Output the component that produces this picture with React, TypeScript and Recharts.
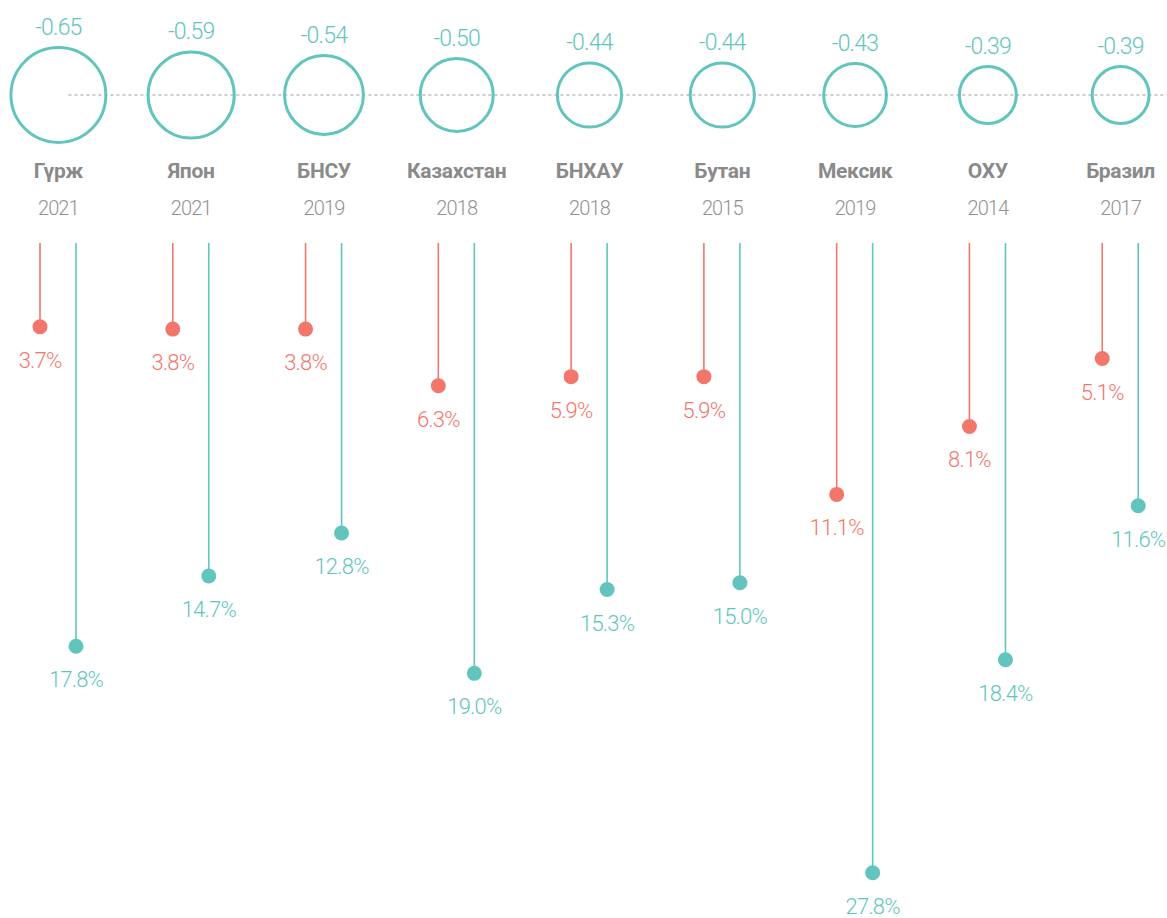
import React from "react";
import { ComposedChart, Bar, XAxis, YAxis } from "recharts";

const countries = ["Гүрж", "Япон", "БНСУ", "Казахстан", "БНХАУ", "Бутан", "Мексик", "ОХУ", "Бразил"];
const years = ["2021", "2021", "2019", "2018", "2018", "2015", "2019", "2014", "2017"];
const coefs = [-0.65, -0.59, -0.54, -0.5, -0.44, -0.44, -0.43, -0.39, -0.39];
const redShare = [3.7, 3.8, 3.8, 6.3, 5.9, 5.9, 11.1, 8.1, 5.1];
const tealShare = [17.8, 14.7, 12.8, 19.0, 15.3, 15.0, 27.8, 18.4, 11.6];

const data = countries.map((name, i) => ({
  name,
  year: years[i],
  coef: coefs[i],
  red: redShare[i],
  teal: tealShare[i],
}));

const RED = "#f3766a";
const TEAL = "#61c5be";
const FONT = "Roboto, 'Noto Sans', sans-serif";

// top row: circle sized by coefficient, name and year
const CircleTick = (props: any) => {
  const { x, payload } = props;
  const d = data.find((r) => r.name === payload.value);
  if (!d) return null;
  const cy = 95;
  const r = Math.abs(d.coef) * 73;
  const first = d.name === countries[0];
  return (
    <g fontFamily={FONT}>
      {first && (
        <line
          x1={x + 10}
          x2={x + 1300}
          y1={cy}
          y2={cy}
          stroke="#bdbdbd"
          strokeWidth={1.5}
          strokeDasharray="3 3"
        />
      )}
      <circle cx={x} cy={cy} r={r} fill="none" stroke={TEAL} strokeWidth={3} />
      <text
        x={x}
        y={cy - r - 13}
        textAnchor="middle"
        fill={TEAL}
        fontSize={23}
        fontWeight={300}
        letterSpacing={-0.8}
      >
        {d.coef.toFixed(2)}
      </text>
      <text x={x} y={178} textAnchor="middle" fill="#8a8a8a" fontSize={21} fontWeight={700} letterSpacing={-0.3}>
        {d.name}
      </text>
      <text x={x} y={215} textAnchor="middle" fill="#929292" fontSize={20} fontWeight={300} letterSpacing={-0.9}>
        {d.year}
      </text>
    </g>
  );
};

const lollipop = (color: string, key: "red" | "teal") => (props: any) => {
  const { x, y, width, height, payload } = props;
  const cx = x + width / 2;
  const y0 = Math.min(y, y + height);
  const y1 = Math.max(y, y + height);
  return (
    <g>
      <line x1={cx} x2={cx} y1={y0} y2={y1} stroke={color} strokeWidth={1.6} />
      <circle cx={cx} cy={y1} r={7.5} fill={color} />
      <text
        x={cx}
        y={y1 + 41}
        textAnchor="middle"
        fill={color}
        fontFamily={FONT}
        fontSize={22}
        fontWeight={300}
        letterSpacing={-0.8}
      >
        {payload[key].toFixed(1)}%
      </text>
    </g>
  );
};

const App: React.FC = () => {
  return (
    <div style={{ position: "absolute", left: 0, top: 0, width: 1167, height: 918, overflow: "hidden", background: "#fff" }}>
      <div style={{ marginLeft: -8.4 }}>
        <ComposedChart
          width={1195}
          height={918}
          data={data}
          margin={{ top: 0, right: 0, left: 0, bottom: 0 }}
          barGap={0}
        >
          <XAxis
            dataKey="name"
            orientation="top"
            height={243}
            interval={0}
            axisLine={false}
            tickLine={false}
            tick={CircleTick}
          />
          <YAxis hide reversed domain={[0, 29.8]} />
          <Bar dataKey="red" barSize={36} isAnimationActive={false} shape={lollipop(RED, "red")} />
          <Bar dataKey="teal" barSize={36} isAnimationActive={false} shape={lollipop(TEAL, "teal")} />
        </ComposedChart>
      </div>
    </div>
  );
};

export default App;
